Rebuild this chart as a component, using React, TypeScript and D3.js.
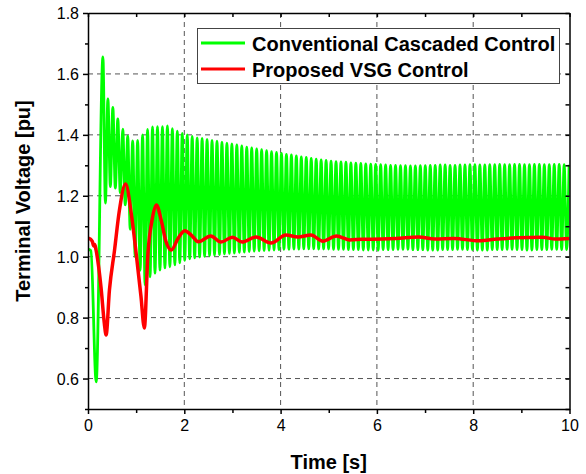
import React, { useRef, useEffect } from "react";
import * as d3 from "d3";

const redTime = [0, 0.05, 0.09, 0.12, 0.14, 0.167, 0.27, 0.34, 0.376, 0.445, 0.55, 0.65, 0.78, 0.9, 1.0, 1.1, 1.17, 1.245, 1.33, 1.42, 1.52, 1.62, 1.73, 1.87, 2.01, 2.15, 2.29, 2.55, 2.76, 3.0, 3.2, 3.49, 3.8, 4.11, 4.36, 4.63, 4.88, 5.16, 5.43, 5.68, 6.1, 6.4, 6.87, 7.2, 7.6, 8.12, 8.5, 8.9, 9.44, 9.7, 10];
const redValue = [1.061, 1.058, 1.05, 1.035, 1.04, 1.022, 0.9, 0.78, 0.743, 0.89, 1.02, 1.15, 1.239, 1.14, 1.011, 0.87, 0.766, 1.011, 1.12, 1.17, 1.12, 1.05, 1.022, 1.06, 1.085, 1.07, 1.049, 1.068, 1.048, 1.064, 1.048, 1.065, 1.045, 1.071, 1.065, 1.071, 1.051, 1.068, 1.055, 1.057, 1.058, 1.06, 1.065, 1.058, 1.06, 1.052, 1.058, 1.062, 1.064, 1.058, 1.06];

// Conventional cascaded control (green): start-up transient, then the peaks/troughs of each oscillation cycle
const greenStartTime = [0, 0.06, 0.17];
const greenStartValue = [1.025, 1.02, 0.589];
const greenFirstPeak = 0.31;
const greenPeriod = 0.103;
const greenPeaks = [
  1.656, 1.518, 1.490, 1.452, 1.419, 1.396, 1.380, 1.382, 1.400, 1.418,
  1.426, 1.427, 1.427, 1.429, 1.420, 1.412, 1.405, 1.400, 1.395, 1.390,
  1.388, 1.385, 1.382, 1.379, 1.376, 1.373, 1.370, 1.367, 1.364, 1.360,
  1.357, 1.354, 1.351, 1.348, 1.345, 1.342, 1.339, 1.336, 1.334, 1.331,
  1.328, 1.326, 1.323, 1.320, 1.318, 1.316, 1.314, 1.312, 1.311, 1.310,
  1.308, 1.307, 1.306, 1.305, 1.304, 1.303, 1.302, 1.301, 1.300, 1.300,
  1.299, 1.299, 1.298, 1.298, 1.299, 1.299, 1.300, 1.300, 1.301, 1.301,
  1.300, 1.300, 1.301, 1.301, 1.302, 1.302, 1.301, 1.301, 1.302, 1.302,
  1.303, 1.302, 1.302, 1.303, 1.303, 1.302, 1.302, 1.303, 1.303, 1.302,
  1.302, 1.303, 1.303, 1.302, 1.302,
];
const greenTroughs = [
  1.176, 1.230, 1.225, 1.210, 1.170, 1.090, 1.000, 0.955, 0.907, 0.934,
  0.946, 0.956, 0.963, 0.967, 0.973, 0.980, 0.988, 0.993, 0.996, 0.999,
  1.001, 1.003, 1.005, 1.007, 1.009, 1.011, 1.012, 1.014, 1.015, 1.017,
  1.018, 1.019, 1.020, 1.021, 1.022, 1.023, 1.024, 1.024, 1.025, 1.025,
  1.026, 1.026, 1.026, 1.025, 1.025, 1.025, 1.024, 1.024, 1.024, 1.023,
  1.023, 1.023, 1.022, 1.022, 1.022, 1.022, 1.023, 1.023, 1.023, 1.024,
  1.024, 1.024, 1.023, 1.023, 1.023, 1.022, 1.022, 1.022, 1.023, 1.023,
  1.023, 1.024, 1.024, 1.023, 1.023, 1.022, 1.022, 1.022, 1.023, 1.023,
  1.023, 1.024, 1.024, 1.023, 1.023, 1.022, 1.022, 1.023, 1.023, 1.023,
  1.024, 1.024, 1.023, 1.023,
];

const xTicks = [0, 2, 4, 6, 8, 10];
const yTicks = [0.6, 0.8, 1.0, 1.2, 1.4, 1.6, 1.8];
const legendLabels = ["Conventional Cascaded Control", "Proposed VSG Control"];

const FONT = '"Liberation Sans", Arial, sans-serif';

const App = () => {
  const chartRef = useRef(null);

  useEffect(() => {
    drawChart();
  }, []);

  const drawChart = () => {
    if (!chartRef.current) return;
    const margin = { top: 13, right: 16.5, bottom: 65, left: 88 };
    const W = 586, H = 474;
    const width = W - margin.left - margin.right;
    const height = H - margin.top - margin.bottom;

    d3.select(chartRef.current).select("svg").remove();
    const root = d3
      .select(chartRef.current)
      .append("svg")
      .attr("width", W)
      .attr("height", H)
      .style("position", "absolute")
      .style("left", 0)
      .style("top", 0)
      .style("background", "#fff");

    const svg = root.append("g").attr("transform", `translate(${margin.left},${margin.top})`);

    const x = d3.scaleLinear().domain([0, 10]).range([0, width]);
    const y = d3.scaleLinear().domain([0.5, 1.8]).range([height, 0]);

    root.append("defs").append("clipPath").attr("id", "plot-clip")
      .append("rect").attr("width", width).attr("height", height);

    // grid
    const grid = svg.append("g").attr("stroke", "#555").attr("stroke-width", 1).attr("stroke-dasharray", "5,4");
    grid.selectAll(".gx").data(xTicks.slice(1, -1)).enter().append("line")
      .attr("x1", (d) => x(d)).attr("x2", (d) => x(d)).attr("y1", 0).attr("y2", height);
    grid.selectAll(".gy").data(yTicks.slice(0, -1)).enter().append("line")
      .attr("x1", 0).attr("x2", width).attr("y1", (d) => y(d)).attr("y2", (d) => y(d));

    // green series
    const greenPts = greenStartTime.map((t, i) => [t, greenStartValue[i]]);
    greenPeaks.forEach((v, k) => {
      greenPts.push([greenFirstPeak + k * greenPeriod, v]);
      if (k < greenTroughs.length) {
        greenPts.push([greenFirstPeak + (k + 0.5) * greenPeriod, greenTroughs[k]]);
      }
    });
    const line = d3.line().x((d) => x(d[0])).y((d) => y(d[1])).curve(d3.curveMonotoneX);

    const plot = svg.append("g").attr("clip-path", "url(#plot-clip)");
    plot.append("path").datum(greenPts).attr("d", line)
      .attr("fill", "none").attr("stroke", "#00ff00").attr("stroke-width", 2.8).attr("stroke-linejoin", "round");

    const redPts = redTime.map((t, i) => [t, redValue[i]]);
    plot.append("path").datum(redPts).attr("d", line)
      .attr("fill", "none").attr("stroke", "#ff0000").attr("stroke-width", 3.5).attr("stroke-linejoin", "round");

    // axes
    const axisStyle = (g) => {
      g.selectAll("path").attr("stroke", "#000").attr("stroke-width", 1.5);
      g.selectAll("line").attr("stroke", "#000").attr("stroke-width", 1.5);
      g.selectAll("text").attr("fill", "#000").style("font-family", FONT).style("font-size", "16px");
    };

    svg.append("g").attr("transform", `translate(0,${height})`)
      .call(d3.axisBottom(x).tickValues(d3.range(0, 11, 1)).tickSize(5).tickSizeOuter(0)
        .tickFormat((d) => (xTicks.includes(d) ? d3.format("d")(d) : "")))
      .call(axisStyle)
      .call((g) => g.selectAll("text").attr("dy", "0.95em").attr("y", 7))
      .call((g) => g.selectAll(".tick").filter((d) => !xTicks.includes(d)).select("line").attr("y2", 4));

    svg.append("g")
      .call(d3.axisLeft(y).tickValues(d3.range(5, 19, 1).map((d) => d / 10)).tickSize(5).tickSizeOuter(0)
        .tickFormat((d) => (yTicks.some((t) => Math.abs(t - d) < 1e-6) ? d3.format(".1f")(d) : "")))
      .call(axisStyle)
      .call((g) => g.selectAll("text").attr("x", -9).attr("dy", "0.35em"))
      .call((g) => g.selectAll(".tick").filter((d) => !yTicks.some((t) => Math.abs(t - d) < 1e-6)).select("line").attr("x2", -3));

    svg.append("g")
      .call(d3.axisTop(x).tickValues(d3.range(0, 11, 1)).tickSize(-4).tickSizeOuter(0).tickFormat(""))
      .call(axisStyle);

    svg.append("g").attr("transform", `translate(${width},0)`)
      .call(d3.axisRight(y).tickValues(d3.range(5, 19, 1).map((d) => d / 10)).tickSize(-4).tickSizeOuter(0).tickFormat(""))
      .call(axisStyle);

    // axis titles
    svg.append("text")
      .attr("x", width / 2).attr("y", height + 60)
      .attr("text-anchor", "middle")
      .style("font-family", FONT).style("font-size", "20px").style("font-weight", "bold")
      .text("Time [s]");

    svg.append("text")
      .attr("transform", `translate(${30 - margin.left},${201 - margin.top}) rotate(-90)`)
      .attr("text-anchor", "middle")
      .style("font-family", FONT).style("font-size", "20px").style("font-weight", "bold")
      .text("Terminal Voltage [pu]");

    // legend
    const legend = root.append("g");
    legend.append("rect").attr("x", 197.5).attr("y", 28.5).attr("width", 362).attr("height", 55)
      .attr("fill", "#fff").attr("stroke", "#444").attr("stroke-width", 1);
    const legendColors = ["#00ff00", "#ff0000"];
    legendLabels.forEach((label, i) => {
      const ly = 43 + i * 26;
      legend.append("line").attr("x1", 201).attr("x2", 245).attr("y1", ly).attr("y2", ly)
        .attr("stroke", legendColors[i]).attr("stroke-width", 3);
      legend.append("text").attr("x", 252).attr("y", ly + 8)
        .style("font-family", FONT).style("font-size", "20px").style("font-weight", "bold")
        .text(label);
    });
  };

  return <div ref={chartRef}></div>;
};

export default App;
